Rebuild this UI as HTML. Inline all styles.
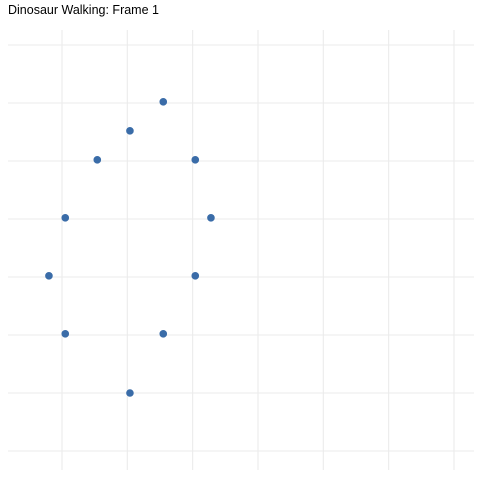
<!DOCTYPE html>
<html><head><meta charset="utf-8"><style>body{margin:0;background:#fff}svg{display:block}</style></head>
<body>
<svg id="chart" width="480" height="480" xmlns="http://www.w3.org/2000/svg">
<rect width="480" height="480" fill="#fff"/>
<text x="8" y="14" font-family="Liberation Sans, sans-serif" font-size="12.5" fill="#000">Dinosaur Walking: Frame 1</text>
<g id="grid"></g><g id="pts"></g>
</svg>
<script>
const xTicks=[0,1,2,3,4,5,6];
const yTicks=[0,1,2,3,4,5,6,7];
const xVals=[1.55,1.04,0.54,2.04,0.05,2.28,-0.2,2.04,0.05,1.55,1.04];
const yVals=[6.02,5.52,5.02,5.02,4.02,4.02,3.02,3.02,2.02,2.02,1.0];
const NS="http://www.w3.org/2000/svg";
function sx(v){return 62+v*65.33;}
function sy(v){return 451-v*58;}
const grid=document.getElementById('grid'),pts=document.getElementById('pts');
xTicks.forEach(t=>{const l=document.createElementNS(NS,'line');


l.setAttribute('x1',sx(t));l.setAttribute('x2',sx(t));l.setAttribute('y1',30);l.setAttribute('y2',470);
l.setAttribute('stroke','#ebebeb');l.setAttribute('stroke-width','1.1');grid.appendChild(l);});
yTicks.forEach(t=>{const l=document.createElementNS(NS,'line');


l.setAttribute('y1',sy(t));l.setAttribute('y2',sy(t));l.setAttribute('x1',8);l.setAttribute('x2',474);
l.setAttribute('stroke','#ebebeb');l.setAttribute('stroke-width','1.1');grid.appendChild(l);});
xVals.forEach((v,i)=>{const c=document.createElementNS(NS,'circle');


c.setAttribute('cx',sx(v));c.setAttribute('cy',sy(yVals[i]));c.setAttribute('r',3.8);
c.setAttribute('fill','#3a6ca8');pts.appendChild(c);});
</script>
</body></html>
